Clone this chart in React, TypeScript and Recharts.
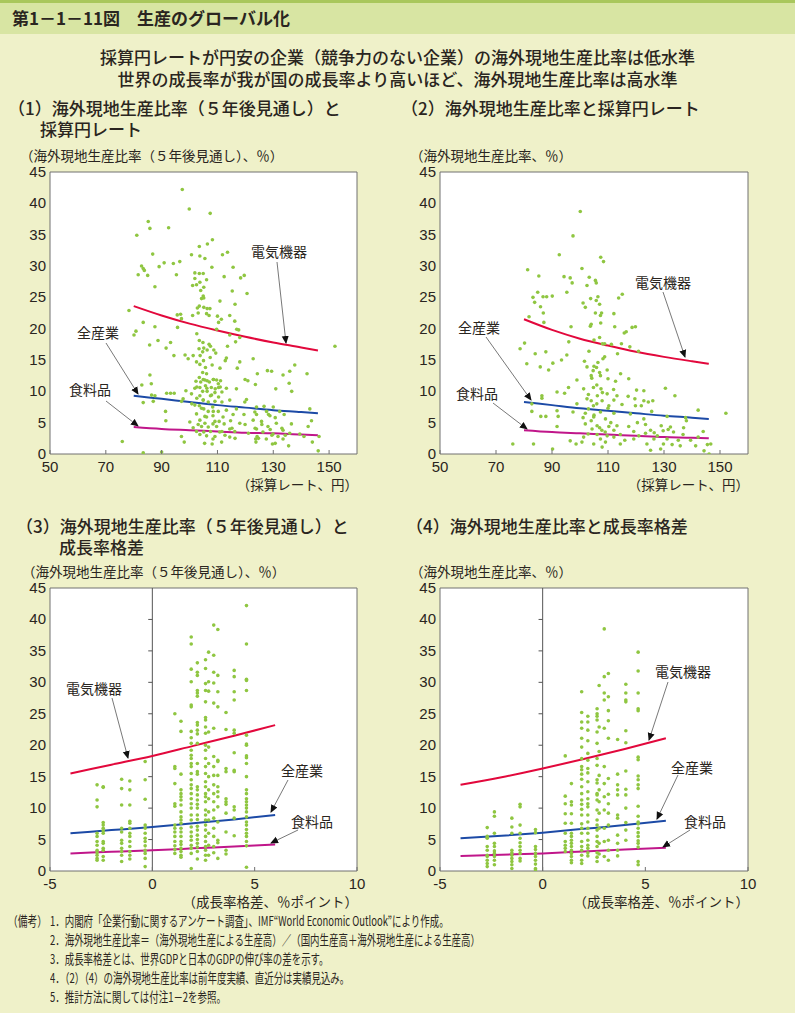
import { ComposedChart, Scatter, Line, XAxis, YAxis, CartesianGrid, ReferenceLine } from 'recharts';

const FONT_JP = '"Noto Sans CJK JP", "Noto Sans", sans-serif';
const FONT_NUM = '"Liberation Sans", Arial, sans-serif';
const DOT = '#8fc641';
const RED = '#e2083c';
const BLUE = '#1c4aa6';
const MAGENTA = '#c0168a';
const AXIS = '#707070';
const INK = '#2a2520';

const yTicks = [0, 5, 10, 15, 20, 25, 30, 35, 40, 45];
const rateTicks = [50, 70, 90, 110, 130, 150];
const gapTicks = [-5, 0, 5, 10];

// (1) 5年後見通し vs 採算円レート
const p1Points: [number, number][] = [
  [97.4, 42.2], [99.9, 39.1], [107.4, 38.4], [85.2, 37.1], [85.8, 36.0], [92.5, 36.1], [81.1, 34.9], [108.2, 34.2],
  [106.4, 33.5], [103.5, 33.1], [113.6, 32.2], [111.8, 31.8], [86.8, 31.9], [100.7, 31.8], [103.7, 31.6], [105.5, 31.2],
  [96.5, 30.7], [90.9, 30.5], [94.2, 30.4], [89.1, 29.9], [82.8, 30.0], [83.4, 29.6], [83.8, 29.3], [108.0, 29.8],
  [115.6, 29.8], [81.6, 28.6], [85.0, 28.5], [95.3, 28.6], [101.9, 28.9], [103.5, 28.8], [104.9, 28.8], [112.4, 28.3],
  [118.3, 28.1], [119.6, 28.5], [101.9, 28.0], [103.7, 27.4], [106.1, 27.8], [101.1, 26.9], [102.5, 27.0], [105.1, 26.6],
  [87.6, 26.7], [115.3, 26.0], [104.0, 26.1], [104.9, 25.2], [120.6, 25.6], [104.3, 24.8], [105.1, 24.9], [110.9, 24.4],
  [116.3, 23.9], [103.5, 23.6], [102.8, 23.3], [105.1, 23.4], [106.3, 23.2], [107.3, 23.2], [78.3, 22.9], [103.1, 22.5],
  [106.1, 22.4], [95.6, 22.2], [96.8, 22.3], [101.1, 22.1], [107.0, 22.1], [110.0, 22.0], [114.4, 22.1], [97.1, 21.6],
  [111.4, 21.5], [83.4, 21.0], [116.2, 21.2], [110.4, 21.0], [87.6, 20.3], [95.7, 20.2], [109.7, 19.9], [116.9, 19.9],
  [117.6, 19.8], [80.8, 19.6], [80.1, 19.0], [102.6, 19.2], [114.4, 19.0], [88.7, 18.1], [93.2, 17.8], [103.5, 18.1],
  [104.8, 17.8], [116.5, 17.9], [118.0, 18.6], [85.7, 17.4], [107.0, 17.5], [107.5, 17.2], [113.6, 17.2], [152.1, 17.2],
  [91.6, 16.9], [103.4, 16.8], [105.1, 16.9], [106.3, 16.6], [104.7, 16.3], [108.7, 16.6], [109.4, 16.1], [98.4, 15.8],
  [101.3, 15.7], [103.8, 15.7], [94.4, 15.7], [107.4, 15.4], [113.2, 15.3], [122.8, 15.2], [99.5, 15.2], [105.0, 14.9],
  [102.5, 14.7], [112.8, 14.9], [118.0, 14.7], [103.7, 14.3], [108.1, 14.2], [137.7, 14.2], [105.7, 13.8], [110.9, 13.7],
  [117.1, 13.7], [127.9, 13.3], [129.4, 13.2], [135.9, 13.2], [85.8, 12.6], [104.7, 13.0], [106.1, 12.8], [124.3, 12.8],
  [133.5, 12.6], [142.1, 12.8], [103.5, 12.2], [104.9, 11.9], [108.6, 11.9], [109.7, 11.8], [111.1, 11.7], [119.9, 11.9],
  [120.9, 11.7], [102.3, 11.6], [106.3, 11.7], [110.3, 11.2], [123.6, 11.1], [86.3, 11.2], [82.9, 11.0], [135.7, 11.3],
  [105.7, 10.9], [103.7, 10.6], [107.8, 10.6], [110.4, 10.6], [113.2, 10.5], [101.9, 10.5], [116.8, 10.4], [130.9, 10.4],
  [98.7, 10.1], [104.7, 10.0], [136.6, 10.0], [106.3, 10.0], [109.1, 9.8], [100.7, 9.6], [91.8, 9.7], [93.2, 9.7],
  [94.5, 9.7], [86.4, 9.4], [87.6, 9.3], [103.7, 9.3], [107.5, 9.3], [110.4, 9.1], [114.4, 8.6], [120.4, 8.7],
  [97.7, 8.8], [102.6, 8.9], [104.9, 8.6], [106.7, 8.3], [109.1, 8.4], [111.6, 8.3], [97.1, 8.4], [83.4, 8.2],
  [87.0, 8.4], [119.8, 8.3], [100.8, 8.0], [103.5, 7.7], [124.0, 7.5], [126.7, 7.6], [130.0, 7.5], [143.1, 7.2],
  [108.3, 7.5], [105.1, 7.2], [113.2, 7.0], [116.8, 7.2], [91.4, 6.8], [106.7, 6.8], [110.3, 6.8], [123.4, 6.7],
  [127.6, 6.8], [132.3, 6.8], [102.5, 6.4], [108.4, 6.1], [115.6, 6.3], [119.5, 6.3], [124.0, 6.3], [128.8, 6.1],
  [133.9, 6.3], [106.1, 5.9], [112.0, 5.9], [103.7, 5.4], [91.5, 5.3], [110.6, 5.2], [114.7, 5.3], [122.8, 5.4],
  [125.8, 5.2], [143.7, 5.3], [100.1, 5.1], [105.5, 4.9], [108.4, 4.8], [112.4, 4.8], [118.0, 4.9], [131.1, 4.9],
  [136.5, 4.8], [104.3, 4.4], [106.7, 4.3], [109.7, 4.4], [128.1, 4.4], [142.5, 4.4], [101.3, 4.2], [114.4, 4.0],
  [124.0, 4.0], [128.9, 3.9], [133.5, 3.8], [102.5, 3.6], [105.1, 3.5], [107.5, 3.6], [110.8, 3.5], [116.2, 3.6],
  [121.1, 3.3], [126.3, 3.5], [129.9, 3.2], [135.9, 3.3], [139.5, 3.2], [103.7, 3.1], [106.1, 2.9], [109.1, 2.8],
  [114.4, 2.7], [124.2, 2.8], [131.7, 2.8], [146.4, 2.8], [141.0, 2.8], [97.1, 2.8], [108.4, 2.4], [123.7, 2.4],
  [127.5, 2.4], [133.5, 2.4], [75.9, 2.0], [98.1, 1.9], [105.4, 1.7], [108.1, 1.6], [111.5, 1.9], [123.8, 1.9],
  [129.7, 1.6], [130.7, 1.7], [135.5, 1.3], [144.0, 1.9], [146.1, 0.5], [83.4, 0.2], [90.0, 0.3],
  [104.0, 11.5], [105.5, 11.8], [107.1, 11.5], [108.5, 11.9], [102.6, 10.7], [106.2, 10.5], [109.2, 10.4], [111.0, 10.7],
  [107.9, 9.4], [111.6, 9.9], [104.9, 8.6], [101.9, 7.8], [104.3, 7.3], [108.5, 6.8], [105.5, 6.0], [109.1, 5.2],
  [103.1, 4.7], [111.6, 3.6], [115.2, 4.1], [119.9, 4.7], [123.5, 4.1], [125.9, 4.7], [128.3, 6.3], [130.7, 5.8],
  [133.1, 4.1], [134.3, 3.0], [129.5, 3.0], [124.7, 2.5], [116.3, 2.5], [112.7, 3.0],
];

// (2) 実績 vs 採算円レート
const p2Points: [number, number][] = [
  [100.1, 38.7], [97.5, 34.8], [92.6, 31.8], [107.4, 31.4], [108.4, 30.7], [100.7, 29.6], [81.3, 29.4], [94.3, 28.3],
  [85.3, 28.4], [96.5, 28.1], [103.3, 28.2], [105.5, 27.7], [97.2, 27.3], [102.5, 26.9], [105.8, 27.3], [84.9, 25.8],
  [95.3, 25.8], [115.1, 25.5], [83.2, 25.0], [86.8, 25.1], [88.1, 25.1], [90.1, 25.2], [106.4, 25.1], [113.8, 24.9],
  [103.8, 24.8], [105.8, 24.5], [83.8, 24.2], [101.1, 24.1], [85.9, 23.5], [107.0, 23.9], [101.9, 23.4], [105.5, 22.5],
  [107.7, 22.5], [112.1, 22.4], [86.9, 22.5], [81.8, 21.9], [107.3, 22.1], [87.1, 21.0], [104.0, 20.7], [103.7, 20.4],
  [107.4, 20.9], [96.8, 20.3], [112.4, 20.3], [118.6, 20.2], [119.8, 20.3], [116.5, 19.5], [115.8, 19.3], [105.0, 18.2],
  [107.0, 18.6], [80.2, 17.7], [96.0, 17.9], [108.0, 17.6], [108.8, 17.6], [78.6, 16.8], [111.2, 17.5], [114.8, 17.6],
  [117.8, 17.1], [84.0, 16.0], [87.8, 16.3], [95.3, 15.8], [103.2, 16.4], [108.8, 15.5], [108.2, 15.2], [113.4, 16.0],
  [120.9, 16.4], [93.4, 15.0], [101.6, 14.8], [106.4, 14.6], [81.0, 14.4], [90.3, 14.5], [85.8, 13.9], [88.8, 13.4],
  [105.9, 13.8], [109.7, 13.4], [114.5, 12.8], [104.7, 13.3], [102.5, 13.9], [117.4, 12.0], [104.2, 12.1], [107.3, 12.5],
  [112.7, 11.6], [98.9, 11.8], [95.9, 10.6], [101.3, 10.4], [104.8, 10.6], [107.5, 10.4], [120.2, 10.2], [122.8, 10.1],
  [130.5, 10.5], [91.8, 9.9], [94.5, 9.7], [86.4, 9.3], [106.2, 9.3], [109.7, 9.6], [113.2, 9.3], [117.2, 9.2],
  [133.9, 9.3], [86.4, 8.9], [102.5, 8.8], [104.0, 8.5], [107.9, 8.5], [112.1, 8.6], [119.6, 8.8], [122.8, 8.5],
  [124.4, 8.3], [126.0, 8.5], [82.8, 8.0], [98.9, 8.0], [104.8, 7.7], [110.3, 7.7], [115.0, 7.9], [119.8, 7.7],
  [121.9, 7.7], [142.2, 7.0], [82.8, 6.8], [91.8, 6.9], [97.5, 6.7], [101.9, 6.5], [107.3, 6.7], [112.1, 6.5],
  [118.0, 6.4], [125.6, 6.8], [152.1, 6.5], [86.0, 6.0], [87.8, 6.0], [92.2, 6.0], [101.1, 5.8], [104.9, 5.9],
  [109.1, 5.6], [122.8, 5.6], [131.1, 6.0], [137.7, 5.8], [138.0, 5.3], [101.9, 4.8], [106.1, 4.5], [110.3, 4.4],
  [113.2, 4.5], [117.4, 4.4], [123.4, 4.7], [129.0, 4.5], [91.8, 4.4], [132.3, 4.3], [104.3, 4.0], [107.8, 3.8],
  [112.1, 3.8], [119.2, 3.6], [125.2, 3.8], [129.7, 3.7], [144.0, 3.6], [133.4, 3.5], [102.9, 3.2], [106.1, 3.1],
  [109.7, 2.9], [114.4, 3.1], [123.4, 3.3], [127.6, 2.9], [136.8, 3.1], [142.2, 2.7], [101.3, 2.7], [107.3, 2.4],
  [112.1, 2.7], [119.2, 2.4], [126.4, 2.4], [131.1, 2.4], [135.1, 2.2], [139.5, 2.2], [96.5, 2.1], [98.6, 1.6],
  [100.7, 1.9], [104.9, 1.6], [109.1, 1.9], [114.4, 1.6], [123.9, 1.6], [129.8, 1.6], [132.9, 1.5], [135.8, 1.3],
  [141.3, 1.3], [145.5, 1.5], [146.7, 1.6], [76.0, 1.6], [83.4, 1.6], [107.9, 1.1], [125.2, 0.6], [128.8, 0.8],
  [90.2, 0.8], [144.3, 0.5], [146.1, 0.0],
  [104.0, 12.5], [106.0, 11.0], [108.0, 9.8], [103.0, 9.5], [110.0, 7.3], [105.0, 6.2], [111.0, 5.0], [104.0, 5.3],
  [107.0, 4.2], [109.0, 3.5], [112.0, 10.3], [106.0, 8.0], [103.0, 7.2], [110.0, 12.0], [105.0, 14.0], [107.0, 13.0],
  [120.5, 5.0], [126.5, 3.4], [131.5, 3.9], [116.0, 2.2], [121.0, 2.9], [137.0, 4.2],
];

// (3) 5年後見通し vs 成長率格差: [格差, 比率...]
const p3Columns: [number, number[]][] = [
  [-2.7, [13.7, 11.3, 10.2, 6.0, 5.5, 4.7, 4.1, 3.3, 2.9, 2.5, 2.0, 1.7]],
  [-2.4, [13.4, 13.3, 7.7, 7.3, 6.8, 6.4, 6.0, 4.7, 4.4, 3.6, 3.3, 2.3, 1.7]],
  [-1.5, [14.6, 13.1, 10.5, 6.8, 6.2, 4.9, 4.4, 3.6, 3.1, 2.5, 1.5]],
  [-1.1, [14.3, 12.9, 10.5, 7.9, 7.6, 6.8, 6.0, 5.5, 4.7, 3.9, 3.1, 2.5, 1.9]],
  [-0.35, [17.4, 14.5, 11.4, 7.3, 6.8, 6.0, 5.2, 4.7, 4.0, 3.3, 2.8, 2.0, 0.7]],
  [1.1, [25.0, 16.6, 16.3, 13.9, 10.7, 10.3, 7.3, 6.8, 6.2, 5.5, 4.7, 4.0, 3.4, 2.8]],
  [1.4, [23.8, 22.2, 15.4, 12.9, 12.3, 11.8, 11.3, 10.5, 9.4, 8.6, 8.1, 7.6, 6.8, 6.2, 5.5, 4.7, 4.2, 3.6, 3.1, 2.5, 2.2]],
  [1.9, [37.2, 36.1, 32.1, 30.1, 26.4, 26.1, 22.2, 21.2, 20.3, 19.2, 18.4, 17.9, 17.1, 16.6, 15.5, 14.5, 13.7, 13.1, 12.3, 11.5, 10.7, 10.0, 8.9, 8.1, 7.0, 6.2, 5.5, 4.9, 4.1, 3.6, 2.8, 0.4]],
  [2.2, [33.1, 31.6, 31.1, 28.7, 28.3, 27.8, 23.6, 23.2, 22.4, 21.8, 20.3, 17.1, 15.8, 15.4, 13.4, 12.9, 12.1, 11.3, 10.6, 10.0, 8.9, 8.2, 7.1, 6.5, 5.7, 5.0, 4.4, 3.8, 3.1, 1.9]],
  [2.6, [33.6, 32.2, 29.8, 28.7, 26.9, 24.4, 24.0, 22.9, 21.9, 20.0, 19.2, 17.9, 16.6, 15.5, 14.2, 13.4, 12.3, 11.8, 11.0, 9.7, 8.9, 8.1, 7.3, 6.5, 5.5, 4.7, 3.9, 3.3, 2.5, 1.7]],
  [2.75, [34.8, 30.1, 28.6, 22.1, 19.7, 17.1, 15.0, 12.9, 11.5, 9.4, 8.1, 6.0, 4.1, 2.5]],
  [3.0, [39.1, 34.3, 31.6, 29.9, 26.7, 22.7, 18.2, 16.6, 15.2, 13.7, 12.3, 11.0, 9.7, 8.4, 6.8, 5.5, 3.9, 2.9]],
  [3.2, [38.4, 31.1, 28.5, 26.1, 17.6, 17.4, 15.2, 13.4, 12.6, 11.8, 10.2, 7.8, 4.9, 4.5, 2.0]],
  [3.6, [25.2, 22.5, 16.3, 15.8, 11.5, 11.0, 10.6, 9.2, 6.2, 3.3, 2.7]],
  [4.0, [31.9, 30.9, 28.5, 27.2, 22.4, 21.9, 18.8, 16.0, 15.8, 10.2, 9.7, 8.4, 5.6]],
  [4.6, [42.2, 36.1, 30.5, 30.3, 28.7, 21.6, 20.2, 20.0, 18.3, 18.0, 17.1, 15.0, 12.9, 12.3, 11.5, 11.0, 10.5, 10.0, 9.4, 8.6, 7.8, 7.3, 6.6, 6.0, 5.5, 4.7, 4.0, 0.6]],
];

// (4) 実績 vs 成長率格差
const p4Columns: [number, number[]][] = [
  [-2.7, [6.9, 5.5, 5.2, 3.9, 3.3, 2.5, 2.3, 1.7, 1.2, 0.7]],
  [-2.35, [9.4, 8.7, 6.0, 4.4, 3.9, 3.2, 2.8, 2.3, 1.7, 1.0]],
  [-1.5, [8.4, 7.0, 6.0, 3.3, 2.9, 2.5, 2.0, 1.5, 1.0, 0.4]],
  [-1.1, [10.6, 10.2, 7.3, 6.0, 5.2, 4.5, 3.9, 3.3, 2.8, 2.0, 1.6]],
  [-0.35, [6.6, 6.1, 3.9, 3.4, 2.8, 2.3, 1.7, 1.1, 0.4, 0.2]],
  [1.1, [18.3, 11.9, 10.7, 9.1, 7.6, 6.0, 4.7, 4.1, 3.6, 3.1]],
  [1.4, [13.9, 11.0, 10.5, 9.1, 7.6, 6.0, 5.5, 4.9, 4.4, 3.9, 3.3, 2.8, 2.3, 1.7, 1.3]],
  [1.9, [28.5, 25.2, 23.7, 22.7, 21.1, 19.7, 17.9, 16.6, 16.1, 15.4, 14.6, 13.4, 12.3, 11.3, 10.6, 9.8, 8.9, 7.5, 6.8, 6.0, 4.7, 3.9, 3.3, 2.5, 1.7, 1.2]],
  [2.2, [24.6, 23.7, 22.4, 20.7, 18.7, 17.6, 16.3, 15.6, 14.2, 12.6, 11.5, 10.7, 10.2, 8.9, 7.8, 6.8, 6.0, 4.9, 4.1, 3.6, 2.9, 2.4]],
  [2.65, [25.8, 25.0, 24.6, 24.0, 22.1, 20.3, 17.9, 16.8, 14.5, 14.0, 12.3, 12.1, 11.3, 9.7, 8.1, 7.3, 6.5, 5.5, 4.7, 3.9, 2.9, 2.2, 1.5]],
  [2.75, [29.5, 22.9, 19.0, 15.2, 12.9, 11.0, 9.2, 6.8, 4.4, 2.7]],
  [3.0, [38.5, 30.9, 28.3, 27.2, 22.7, 16.6, 13.9, 11.8, 9.7, 6.8, 4.7, 2.3]],
  [3.2, [31.4, 27.7, 25.5, 23.9, 21.1, 14.7, 12.2, 10.7, 9.2, 7.3, 4.9, 3.3, 1.7]],
  [3.65, [20.9, 15.4, 13.7, 12.9, 12.1, 8.9, 8.4, 5.7, 4.4, 3.3, 2.4]],
  [4.05, [29.7, 28.3, 27.2, 26.9, 22.3, 20.4, 15.9, 13.0, 12.1, 10.0, 7.7, 6.5, 4.9]],
  [4.65, [34.8, 31.8, 28.3, 25.8, 25.5, 18.1, 17.7, 15.1, 14.5, 13.7, 13.1, 10.3, 8.7, 7.8, 7.5, 6.8, 6.1, 5.5, 4.8, 4.4, 3.8, 1.5, 1.0]],
];

// estimated curves: [x, y]
const p1Elec: [number, number][] = [[80, 23.6], [90, 22.1], [100, 20.8], [110, 19.7], [120, 18.7], [130, 17.8], [140, 17.0], [146, 16.5]];
const p1All: [number, number][] = [[80, 9.3], [90, 8.8], [100, 8.3], [110, 7.8], [120, 7.4], [130, 7.0], [140, 6.7], [146, 6.5]];
const p1Food: [number, number][] = [[80, 4.3], [90, 4.0], [100, 3.8], [110, 3.6], [120, 3.4], [130, 3.3], [140, 3.1], [146, 3.0]];
const p2Elec: [number, number][] = [[80, 21.5], [90, 19.8], [100, 18.4], [110, 17.3], [120, 16.3], [130, 15.5], [140, 14.8], [146, 14.4]];
const p2All: [number, number][] = [[80, 8.3], [90, 7.8], [100, 7.3], [110, 6.9], [120, 6.5], [130, 6.1], [140, 5.8], [146, 5.6]];
const p2Food: [number, number][] = [[80, 3.8], [90, 3.5], [100, 3.3], [110, 3.1], [120, 2.9], [130, 2.7], [140, 2.6], [146, 2.5]];
const p3Elec: [number, number][] = [[-4, 15.5], [-2, 16.9], [0, 18.3], [2, 19.9], [4, 21.5], [6, 23.2]];
const p3All: [number, number][] = [[-4, 6.0], [-2, 6.5], [0, 7.0], [2, 7.6], [4, 8.2], [6, 8.9]];
const p3Food: [number, number][] = [[-4, 2.8], [-2, 3.05], [0, 3.3], [2, 3.6], [4, 3.9], [6, 4.2]];
const p4Elec: [number, number][] = [[-4, 13.7], [-2, 14.9], [0, 16.3], [2, 17.8], [4, 19.4], [6, 21.1]];
const p4All: [number, number][] = [[-4, 5.2], [-2, 5.6], [0, 6.1], [2, 6.7], [4, 7.3], [6, 8.0]];
const p4Food: [number, number][] = [[-4, 2.4], [-2, 2.6], [0, 2.8], [2, 3.1], [4, 3.4], [6, 3.7]];

const toXY = (arr: [number, number][]) => arr.map(([x, y]) => ({ x, y }));
const fromColumns = (cols: [number, number[]][]) => cols.flatMap(([x, ys]) => ys.map((y) => ({ x, y })));

const XTick = (props: any) => {
  const { x, y, payload } = props;
  return (
    <g>
      <line x1={x} x2={x} y1={y} y2={y - 4} stroke={AXIS} />
      <text x={x} y={y + 18} textAnchor="middle" fontSize={15} fill={INK} fontFamily={FONT_NUM}>
        {payload.value}
      </text>
    </g>
  );
};

const YTick = (props: any) => {
  const { x, y, payload } = props;
  return (
    <text x={x - 4} y={y + 5} textAnchor="end" fontSize={15} fill={INK} fontFamily={FONT_NUM}>
      {payload.value}
    </text>
  );
};

const Dot = (props: any) => <circle cx={props.cx} cy={props.cy} r={1.8} fill={DOT} />;

interface PanelProps {
  left: number;
  plotTop: number;
  yAxisW: number;
  plotW: number;
  plotH: number;
  xDomain: [number, number];
  xTicks: number[];
  points: { x: number; y: number }[];
  elec: [number, number][];
  all: [number, number][];
  food: [number, number][];
  zero?: boolean;
}

function Panel({ left, plotTop, yAxisW, plotW, plotH, xDomain, xTicks, points, elec, all, food, zero }: PanelProps) {
  const right = 20;
  const width = yAxisW + plotW + right;
  return (
    <div style={{ position: 'absolute', left, top: plotTop - 10 }}>
      <ComposedChart width={width} height={plotH + 40} margin={{ top: 10, right, bottom: 0, left: 0 }}>
        <CartesianGrid fill="#ffffff" horizontal={false} vertical={false} stroke="none" />
        <XAxis
          type="number"
          dataKey="x"
          domain={xDomain}
          ticks={xTicks}
          interval={0}
          allowDataOverflow
          height={30}
          tickLine={false}
          tickSize={0}
          tickMargin={0}
          axisLine={{ stroke: AXIS }}
          tick={<XTick />}
        />
        <YAxis
          type="number"
          dataKey="y"
          domain={[0, 45]}
          ticks={yTicks}
          interval={0}
          allowDataOverflow
          width={yAxisW}
          tickLine={false}
          tickSize={0}
          tickMargin={0}
          axisLine={{ stroke: AXIS }}
          tick={<YTick />}
        />
        <ReferenceLine y={45} stroke={AXIS} />
        <ReferenceLine x={xDomain[1]} stroke={AXIS} />
        {zero && <ReferenceLine x={0} stroke="#555" />}
        {zero &&
          yTicks.slice(1, -1).map((t) => (
            <ReferenceLine key={t} segment={[{ x: -0.2, y: t }, { x: 0, y: t }]} stroke="#555" />
          ))}
        <Scatter data={points} dataKey="y" shape={<Dot />} isAnimationActive={false} />
        <Line data={toXY(elec)} dataKey="y" type="monotone" stroke={RED} strokeWidth={2} dot={false} isAnimationActive={false} />
        <Line data={toXY(all)} dataKey="y" type="monotone" stroke={BLUE} strokeWidth={2} dot={false} isAnimationActive={false} />
        <Line data={toXY(food)} dataKey="y" type="monotone" stroke={MAGENTA} strokeWidth={2} dot={false} isAnimationActive={false} />
      </ComposedChart>
    </div>
  );
}

const Txt = ({ x, y, size, children, weight = 400, anchor = 'left', lh = 1.15 }: any) => (
  <div
    style={{
      position: 'absolute',
      left: anchor === 'left' ? x : undefined,
      right: anchor === 'right' ? 795 - x : undefined,
      top: y - size * lh * 0.5,
      fontSize: size,
      fontWeight: weight,
      lineHeight: typeof lh === 'number' && lh < 4 ? lh : `${lh}px`,
      whiteSpace: 'nowrap',
      fontFamily: FONT_JP,
      color: INK,
    }}
  >
    {children}
  </div>
);

// label positions and arrows: [text, centerX, centerY, fromX, fromY, toX, toY]
const labels: [string, number, number, number, number, number, number][] = [
  ['電気機器', 279, 251, 277, 262, 286, 343],
  ['全産業', 98, 332, 106, 343, 138, 394],
  ['食料品', 90, 389, 106, 401, 138, 426],
  ['電気機器', 663, 282, 663, 292, 685, 357],
  ['全産業', 479, 327, 486, 337, 531, 400],
  ['食料品', 477, 393, 493, 403, 527, 429],
  ['電気機器', 94, 688, 112, 698, 128, 758],
  ['全産業', 302, 770, 288, 780, 271, 812],
  ['食料品', 312, 821, 298, 830, 271, 843],
  ['電気機器', 683, 671, 668, 682, 649, 740],
  ['全産業', 692, 767, 678, 775, 657, 819],
  ['食料品', 705, 821, 690, 830, 663, 847],
];

const notes = [
  '1．内閣府「企業行動に関するアンケート調査」、IMF“World Economic Outlook”により作成。',
  '2．海外現地生産比率＝（海外現地生産による生産高）／（国内生産高＋海外現地生産による生産高）',
  '3．成長率格差とは、世界GDPと日本のGDPの伸び率の差を示す。',
  '4．（2）（4）の海外現地生産比率は前年度実績、直近分は実績見込み。',
  '5．推計方法に関しては付注1－2を参照。',
];

const headStyle = {
  position: 'absolute' as const,
  fontFamily: FONT_JP,
  fontSize: 17,
  fontWeight: 500,
  lineHeight: '21px',
  color: INK,
  whiteSpace: 'nowrap' as const,
};

export default function App() {
  return (
    <div style={{ position: 'absolute', left: 0, top: 0, width: 795, height: 1013, background: '#eff1c9', overflow: 'hidden' }}>
      <div style={{ position: 'absolute', left: 0, top: 0, width: 795, height: 3, background: '#a9c75c' }} />
      <div style={{ position: 'absolute', left: 0, top: 3, width: 795, height: 31, background: '#d8e5a3' }} />
      <Txt x={12} y={18} size={17} weight={700}>第1－1－11図　生産のグローバル化</Txt>

      <div style={{ position: 'absolute', left: 0, width: 795, top: 46, textAlign: 'center', fontFamily: FONT_JP, fontSize: 17, fontWeight: 500, lineHeight: '22px', color: INK }}>
        採算円レートが円安の企業（競争力のない企業）の海外現地生産比率は低水準
        <br />
        世界の成長率が我が国の成長率より高いほど、海外現地生産比率は高水準
      </div>

      <div style={{ ...headStyle, left: 8, top: 97 }}>
        （1）海外現地生産比率（５年後見通し）と
        <br />
        <span style={{ paddingLeft: 32 }}>採算円レート</span>
      </div>
      <div style={{ ...headStyle, left: 401, top: 97 }}>（2）海外現地生産比率と採算円レート</div>
      <div style={{ ...headStyle, left: 16, top: 515 }}>
        （3）海外現地生産比率（５年後見通し）と
        <br />
        <span style={{ paddingLeft: 43 }}>成長率格差</span>
      </div>
      <div style={{ ...headStyle, left: 406, top: 515 }}>（4）海外現地生産比率と成長率格差</div>

      <Txt x={20} y={156} size={13.5}>（海外現地生産比率（５年後見通し）、％）</Txt>
      <Txt x={410} y={156} size={13.5}>（海外現地生産比率、％）</Txt>
      <Txt x={22} y={572} size={13.5}>（海外現地生産比率（５年後見通し）、％）</Txt>
      <Txt x={410} y={572} size={13.5}>（海外現地生産比率、％）</Txt>
      <Txt x={358} y={485} size={13.5} anchor="right">（採算レート、円）</Txt>
      <Txt x={749} y={485} size={13.5} anchor="right">（採算レート、円）</Txt>
      <Txt x={358} y={902} size={13.5} anchor="right">（成長率格差、％ポイント）</Txt>
      <Txt x={749} y={902} size={13.5} anchor="right">（成長率格差、％ポイント）</Txt>

      <Panel left={0} plotTop={172} yAxisW={50} plotW={307} plotH={282} xDomain={[50, 160]} xTicks={rateTicks}
        points={toXY(p1Points)} elec={p1Elec} all={p1All} food={p1Food} />
      <Panel left={400} plotTop={172} yAxisW={40} plotW={308} plotH={282} xDomain={[50, 160]} xTicks={rateTicks}
        points={toXY(p2Points)} elec={p2Elec} all={p2All} food={p2Food} />
      <Panel left={0} plotTop={588} yAxisW={50} plotW={307} plotH={283} xDomain={[-5, 10]} xTicks={gapTicks}
        points={fromColumns(p3Columns)} elec={p3Elec} all={p3All} food={p3Food} zero />
      <Panel left={400} plotTop={588} yAxisW={40} plotW={308} plotH={283} xDomain={[-5, 10]} xTicks={gapTicks}
        points={fromColumns(p4Columns)} elec={p4Elec} all={p4All} food={p4Food} zero />

      {labels.map(([t, cx, cy], i) => (
        <div key={i} style={{ position: 'absolute', left: cx - 40, width: 80, top: cy - 9, textAlign: 'center', fontFamily: FONT_JP, fontSize: 14, lineHeight: '18px', color: INK }}>
          {t}
        </div>
      ))}
      <svg width={795} height={1013} style={{ position: 'absolute', left: 0, top: 0, pointerEvents: 'none' }}>
        <defs>
          <marker id="ah" markerWidth="8" markerHeight="8" refX="7" refY="4" orient="auto" markerUnits="userSpaceOnUse">
            <path d="M0,0.5 L8,4 L0,7.5 Z" fill="#111" />
          </marker>
        </defs>
        {labels.map(([, , , x1, y1, x2, y2], i) => (
          <line key={i} x1={x1} y1={y1} x2={x2} y2={y2} stroke="#555" strokeWidth={0.8} markerEnd="url(#ah)" />
        ))}
      </svg>

      <div style={{ position: 'absolute', left: 8, top: 911, fontFamily: FONT_JP, fontSize: 13.5, color: INK, lineHeight: '19px', transform: 'scaleX(0.72)', transformOrigin: 'left top', whiteSpace: 'nowrap' }}>
        （備考）
      </div>
      <div style={{ position: 'absolute', left: 50, top: 911, fontFamily: FONT_JP, fontSize: 13.5, color: INK, lineHeight: '19px', transform: 'scaleX(0.7)', transformOrigin: 'left top', whiteSpace: 'nowrap' }}>
        {notes.map((n, i) => (
          <div key={i}>{n}</div>
        ))}
      </div>
    </div>
  );
}
